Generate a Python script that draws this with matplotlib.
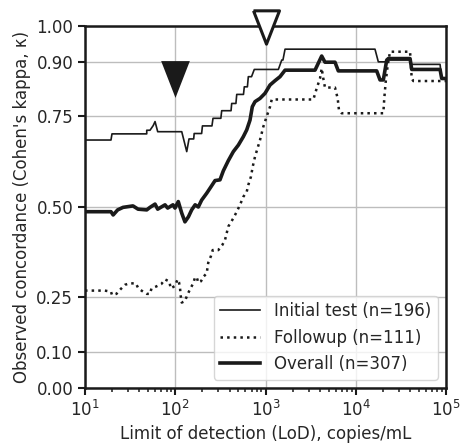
import numpy as np
import matplotlib
matplotlib.use("Agg")
import matplotlib.pyplot as plt

# Initial test (n=196)
init_x = [10, 19.4, 19.9, 48.3, 48.3, 52.5, 57, 59.7, 63.9, 118, 134, 142, 160, 162, 196, 200,
          255, 262, 320, 327, 415, 422, 470, 480, 570, 582, 630, 645, 700, 751, 1388, 1513,
          1560, 1646, 16330, 17780, 21470, 22030, 39950, 41680, 85900, 89600, 100000]
init_y = [0.685, 0.685, 0.702, 0.702, 0.712, 0.712, 0.725, 0.736, 0.708, 0.708, 0.653, 0.688,
          0.688, 0.703, 0.703, 0.724, 0.724, 0.745, 0.745, 0.766, 0.766, 0.786, 0.786, 0.811,
          0.811, 0.832, 0.832, 0.86, 0.86, 0.88, 0.88, 0.906, 0.906, 0.936, 0.936, 0.901,
          0.901, 0.906, 0.906, 0.894, 0.894, 0.855, 0.855]

# Followup (n=111)
fu_x = [10, 16.6, 19.4, 19.9, 22.3, 24.8, 27.7, 31, 36.6, 39, 44, 48.3, 52.5, 54.5, 61, 70,
        77, 86, 89, 99.3, 106, 110, 113, 115, 118, 128, 136, 146, 158, 166, 173, 180, 193,
        205, 223, 232, 249, 260, 300, 332, 356, 387, 440, 480, 522, 567, 619, 645, 690, 721,
        765, 869, 946, 1030, 1122, 1172, 3390, 3692, 4016, 4192, 4368, 4559, 5886, 6303,
        6512, 6978, 20200, 20700, 21470, 22590, 23970, 39950, 41680, 43450, 100000]
fu_y = [0.269, 0.269, 0.266, 0.257, 0.26, 0.273, 0.285, 0.289, 0.289, 0.275, 0.266, 0.26,
        0.26, 0.275, 0.28, 0.287, 0.30, 0.294, 0.275, 0.282, 0.30, 0.292, 0.275, 0.254,
        0.236, 0.24, 0.257, 0.273, 0.289, 0.306, 0.306, 0.291, 0.295, 0.307, 0.317, 0.346,
        0.365, 0.381, 0.381, 0.395, 0.409, 0.446, 0.469, 0.487, 0.506, 0.528, 0.542, 0.561,
        0.584, 0.611, 0.639, 0.685, 0.722, 0.75, 0.777, 0.797, 0.797, 0.828, 0.855, 0.883,
        0.855, 0.83, 0.83, 0.80, 0.768, 0.759, 0.759, 0.80, 0.846, 0.892, 0.929, 0.929,
        0.855, 0.848, 0.848]

# Overall (n=307)
all_x = [10, 19.4, 20.5, 23, 26.4, 34, 38.7, 48.3, 52.5, 59.7, 63.9, 77, 82.4, 94.3, 99.3,
         108, 118, 128, 140, 152, 166, 180, 196, 223, 249, 276, 313, 341, 387, 440, 500, 567,
         619, 673, 714, 765, 869, 987, 1122, 1275, 1448, 1646, 3535, 4192, 4559, 5886, 6404,
         17050, 18570, 20200, 22030, 22960, 39950, 41680, 85900, 89600, 100000]
all_y = [0.487, 0.487, 0.478, 0.492, 0.499, 0.503, 0.494, 0.492, 0.499, 0.508, 0.494, 0.506,
         0.497, 0.506, 0.497, 0.515, 0.483, 0.459, 0.473, 0.492, 0.506, 0.50, 0.519, 0.538,
         0.556, 0.573, 0.575, 0.60, 0.628, 0.653, 0.671, 0.694, 0.713, 0.74, 0.777, 0.791,
         0.80, 0.814, 0.837, 0.849, 0.86, 0.878, 0.878, 0.917, 0.90, 0.90, 0.876, 0.876,
         0.851, 0.851, 0.906, 0.91, 0.91, 0.88, 0.88, 0.855, 0.855]

yticks = [0.0, 0.1, 0.25, 0.5, 0.75, 0.9, 1.0]

plt.rcParams['font.family'] = ['DejaVu Sans']
plt.rcParams['font.size'] = 12
plt.rcParams['text.color'] = '#262626'
plt.rcParams['axes.labelcolor'] = '#262626'
plt.rcParams['xtick.labelcolor'] = '#262626'
plt.rcParams['ytick.labelcolor'] = '#262626'

fig = plt.figure(figsize=(4.61, 4.43), dpi=100)
ax = fig.add_axes([0.1844, 0.1242, 0.7831, 0.8171])

ax.plot(init_x, init_y, color='#1a1a1a', lw=1.2, label='Initial test (n=196)')
ax.plot(fu_x, fu_y, color='#1a1a1a', lw=1.8, ls=':', label='Followup (n=111)')
ax.plot(all_x, all_y, color='#1a1a1a', lw=2.6, label='Overall (n=307)')

# LoD markers
tri = [(-0.39, 0.5), (0.39, 0.5), (0.0, -0.5), (-0.39, 0.5)]
ax.plot([100], [0.854], marker=tri, ms=26.5, color='#1a1a1a', mew=0, ls='none', zorder=5)
ax.plot([1000], [0.997], marker=tri, ms=24, mfc='white', mec='#1a1a1a', mew=2.2,
        ls='none', zorder=6, clip_on=False)

ax.set_xscale('log')
ax.set_xlim(10, 1e5)
ax.set_ylim(0, 1)
ax.set_yticks(yticks)
ax.set_yticklabels(['%.2f' % t for t in yticks])
ax.grid(True, which='major', color='#bdbdbd', lw=1)
ax.set_axisbelow(True)
for s in ax.spines.values():
    s.set_linewidth(1.8)
    s.set_color('#1a1a1a')
ax.tick_params(which='major', length=5, width=1.5, direction='out', color='#1a1a1a')
ax.tick_params(which='minor', length=3, width=1.1, direction='out', color='#1a1a1a')

ax.set_xlabel('Limit of detection (LoD), copies/mL')
ax.set_ylabel("Observed concordance (Cohen's kappa, κ)")
ax.legend(loc='lower right', handlelength=2.4, framealpha=0.8, fancybox=True)

fig.savefig('out.png', dpi=100)
